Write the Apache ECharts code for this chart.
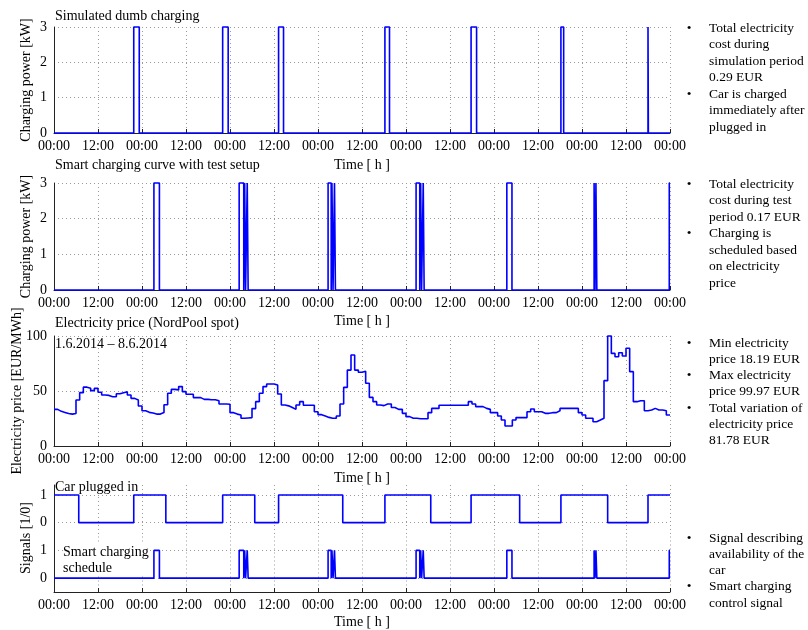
<!DOCTYPE html>
<html><head><meta charset="utf-8">
<script src="https://cdn.jsdelivr.net/npm/echarts@6.0.0/dist/echarts.min.js"></script>
<style>html,body{margin:0;padding:0;background:#fff}#c{width:808px;height:630px}</style>
</head><body><div id="c"></div>
<script>
// ---------- data ----------
const tickLabels = ['00:00', '12:00'];
const hoursTotal = 168;
const chargePower = 3;

// hourly NordPool spot price, EUR/MWh, 1.6.2014 00:00 .. 7.6.2014 23:00
const price = [
  33.3, 31.5, 30.5, 29.5, 29, 29.5, 41.8, 48.5, 53.5, 52.4, 50.3, 52.4,
  48.8, 46.4, 46, 44.8, 44.8, 47.5, 48.5, 49.4, 46.4, 43.3, 41.8, 36.4,
  32, 30.6, 30, 29, 29, 30.5, 37.5, 48, 51.5, 51, 54, 49.4,
  47, 47, 44, 44, 42.4, 42.4, 42, 42, 41.2, 38.2, 38.2, 38,
  30.3, 29, 28.2, 25.2, 25.5, 25.8, 34, 40.3, 48, 54, 56.4, 56.4,
  55.5, 47.3, 37.3, 36.5, 35, 33.3, 37.3, 40.3, 37, 37, 37, 31.2,
  28.5, 27.3, 26, 25.2, 25.2, 27.3, 38.2, 53.3, 69, 82.7, 69, 67,
  68, 57, 44.2, 40.3, 37.3, 36.7, 38.2, 38.2, 35, 33.3, 33.3, 29.7,
  26.7, 25.2, 25.2, 24.8, 24.8, 24.8, 30.3, 34.2, 34.2, 37, 37, 37,
  37, 37, 37, 37, 37, 40.3, 38.2, 35.8, 35.8, 34.2, 33.3, 30.3,
  30.3, 27.3, 23.6, 18.19, 18.19, 23.6, 25.8, 25.8, 25.8, 31.2, 33.6, 31.2,
  31.2, 29.7, 29.7, 30.3, 30.3, 32.1, 34.2, 34.2, 34.2, 34.2, 34.2, 30.3,
  28.2, 25.2, 25.2, 22.1, 23.6, 25.2, 59.4, 99.97, 84.2, 81.2, 84.8, 81.8,
  88.8, 67.6, 40.3, 41.2, 41.2, 32.1, 32.7, 34.2, 32.7, 32.7, 32.1, 28.2
];

// car plugged in: start / end hours
const plugOn  = [0,    21.75, 46.0,  61.25, 90.25,  113.75, 138.25, 162.0];
const plugOff = [6.75, 30.5,  54.75, 78.75, 102.75, 127.0,  151.0,  168];

// dumb charging: start / end hours (3 kW)
const dumbOn  = [21.75, 46.0, 61.25, 90.25, 113.75, 138.25, 162.0];
const dumbOff = [23.25, 47.5, 62.6,  91.5,  115.25, 139.0,  162.1];

// smart charging: start / end hours (3 kW)
const smartOn  = [27.25, 50.5,  52.0,  52.7,  74.75, 75.8, 76.5,  98.75, 100.0, 100.7, 123.5, 147.3, 147.8, 167.8];
const smartOff = [28.75, 51.75, 52.25, 52.95, 75.6,  76.1, 76.75, 99.75, 100.25, 100.95, 124.9, 147.55, 148.05, 168];

// ---------- helpers ----------
function pulses(on, off, level) {
  const pts = [];
  if (on[0] > 0) pts.push([0, 0]);
  for (let i = 0; i < on.length; i++) {
    if (on[i] > 0) pts.push([on[i], 0]);
    pts.push([on[i], level]);
    pts.push([off[i], level]);
    if (off[i] < hoursTotal) pts.push([off[i], 0]);
  }
  if (off[off.length - 1] < hoursTotal) pts.push([hoursTotal, 0]);
  return pts;
}
const priceData = price.map((v, h) => [h, v]).concat([[hoursTotal, price[price.length - 1]]]);

// ---------- styling ----------
const FONT = '"Liberation Serif", "Times New Roman", serif';
const BLUE = '#0000ff';
const GRIDC = '#9a9a9a';
const L = 54, W = 616;

function xAxis(gi, showAxis, nameGap) {
  return {
    type: 'value', gridIndex: gi, min: 0, max: hoursTotal, interval: 12,
    axisLine: { show: showAxis, onZero: false, lineStyle: { color: '#222', width: 1 } },
    axisTick: { show: showAxis, inside: true, length: 4, lineStyle: { color: '#222' } },
    axisLabel: { show: showAxis, margin: 6, color: '#000', fontFamily: FONT, fontSize: 14,
      formatter: v => tickLabels[Math.round(v / 12) % 2] },
    splitLine: { show: true, lineStyle: { color: GRIDC, type: [1, 3], width: 1 } },
    name: showAxis ? 'Time [ h ]' : '', nameLocation: 'middle', nameGap: nameGap || 24,
    nameMoveOverlap: false,
    nameTextStyle: { color: '#000', fontFamily: FONT, fontSize: 14, verticalAlign: 'top' }
  };
}
function yAxis(gi, min, max, interval, name, nameGap, formatter, cycle) {
  return {
    type: 'value', gridIndex: gi, min: min, max: max, interval: interval,
    axisLine: { show: true, onZero: false, lineStyle: { color: '#222', width: 1 } },
    axisTick: { show: false },
    axisLabel: { margin: 7, color: '#000', fontFamily: FONT, fontSize: 14, formatter: formatter,
      showMinLabel: true, showMaxLabel: true },
    splitLine: { show: true, lineStyle: { color: cycle ? ['rgba(0,0,0,0)', GRIDC] : GRIDC, type: [1, 3], width: 1 } },
    name: name, nameLocation: 'middle', nameGap: nameGap, nameRotate: 90, nameMoveOverlap: false,
    nameTextStyle: { color: '#000', fontFamily: FONT, fontSize: 14 }
  };
}
const sig = v => (Math.abs(v) < 1e-9 ? '0' : Math.abs(v - 1) < 1e-9 ? '1' : '');

function lineSeries(xi, yi, data, step) {
  return {
    type: 'line', xAxisIndex: xi, yAxisIndex: yi, data: data, step: step || false,
    showSymbol: false, symbol: 'none', clip: false, animation: false,
    lineStyle: { color: BLUE, width: 1.6 }
  };
}

function titleText(text, left, top, bg) {
  return { text: text, left: left, top: top, padding: 0, itemGap: 0,
    backgroundColor: bg ? '#fff' : 'transparent',
    textStyle: { color: '#000', fontFamily: FONT, fontSize: 14, fontWeight: 'normal', lineHeight: 16 } };
}

// right-hand notes
const notes = [
  { top: 28,  step: 16.5, bullets: [['Total electricity', 'cost during', 'simulation period', '0.29 EUR'], ['Car is charged', 'immediately after', 'plugged in']] },
  { top: 184, step: 16.5, bullets: [['Total electricity', 'cost during test', 'period 0.17 EUR'], ['Charging is', 'scheduled based', 'on electricity', 'price']] },
  { top: 343, step: 16.3, bullets: [['Min electricity', 'price 18.19 EUR'], ['Max electricity', 'price 99.97 EUR'], ['Total variation of', 'electricity price', '81.78 EUR']] },
  { top: 538, step: 16.3, bullets: [['Signal describing', 'availability of the', 'car'], ['Smart charging', 'control signal']] }
];
const NOTE_FONT = '13.5px ' + FONT;
const graphics = [];
notes.forEach(g => {
  let row = 0;
  g.bullets.forEach(lines => {
    graphics.push({ type: 'text', x: 689, y: g.top + row * g.step,
      style: { text: '•', font: NOTE_FONT, fill: '#000', textAlign: 'center', textVerticalAlign: 'middle' } });
    lines.forEach(t => {
      graphics.push({ type: 'text', x: 709, y: g.top + row * g.step,
        style: { text: t, font: NOTE_FONT, fill: '#000', textAlign: 'left', textVerticalAlign: 'middle' } });
      row++;
    });
  });
});
graphics.push({ type: 'text', x: 26, y: 538, rotation: Math.PI / 2,
  style: { text: 'Signals [1/0]', font: '14px ' + FONT, fill: '#000', textAlign: 'center', textVerticalAlign: 'middle' } });

const option = {
  backgroundColor: '#fff',
  animation: false,
  grid: [
    { left: L, width: W, top: 27,    height: 106,  outerBoundsMode: 'none' },
    { left: L, width: W, top: 183,   height: 107,  outerBoundsMode: 'none' },
    { left: L, width: W, top: 336,   height: 110,  outerBoundsMode: 'none' },
    { left: L, width: W, top: 485,   height: 51.5, outerBoundsMode: 'none' },
    { left: L, width: W, top: 536.5, height: 55.5, outerBoundsMode: 'none' }
  ],
  xAxis: [xAxis(0, true, 25), xAxis(1, true, 24), xAxis(2, true, 25), xAxis(3, false), xAxis(4, true, 23)],
  yAxis: [
    yAxis(0, 0, 3, 1, 'Charging power [kW]', 21),
    yAxis(1, 0, 3, 1, 'Charging power [kW]', 21),
    yAxis(2, 0, 100, 50, 'Electricity price [EUR/MWh]', 30),
    yAxis(3, -0.5, 1.36, 0.5, '', 21, sig, true),
    yAxis(4, -0.5, 1.5, 0.5, '', 21, sig, true)
  ],
  title: [
    titleText('Simulated dumb charging', 55, 8),
    titleText('Smart charging curve with test setup', 55, 157),
    titleText('Electricity price (NordPool spot)', 55, 315),
    titleText('1.6.2014 – 8.6.2014', 55, 336),
    titleText('Car plugged in', 55, 479),
    titleText('Smart charging\nschedule', 63, 544, true)
  ],
  graphic: graphics,
  series: [
    lineSeries(0, 0, pulses(dumbOn, dumbOff, chargePower)),
    lineSeries(1, 1, pulses(smartOn, smartOff, chargePower)),
    lineSeries(2, 2, priceData, 'end'),
    lineSeries(3, 3, pulses(plugOn, plugOff, 1)),
    lineSeries(4, 4, pulses(smartOn, smartOff, 1))
  ]
};
const chart = echarts.init(document.getElementById('c'), null, { renderer: 'canvas' });
chart.setOption(option);
</script></body></html>
